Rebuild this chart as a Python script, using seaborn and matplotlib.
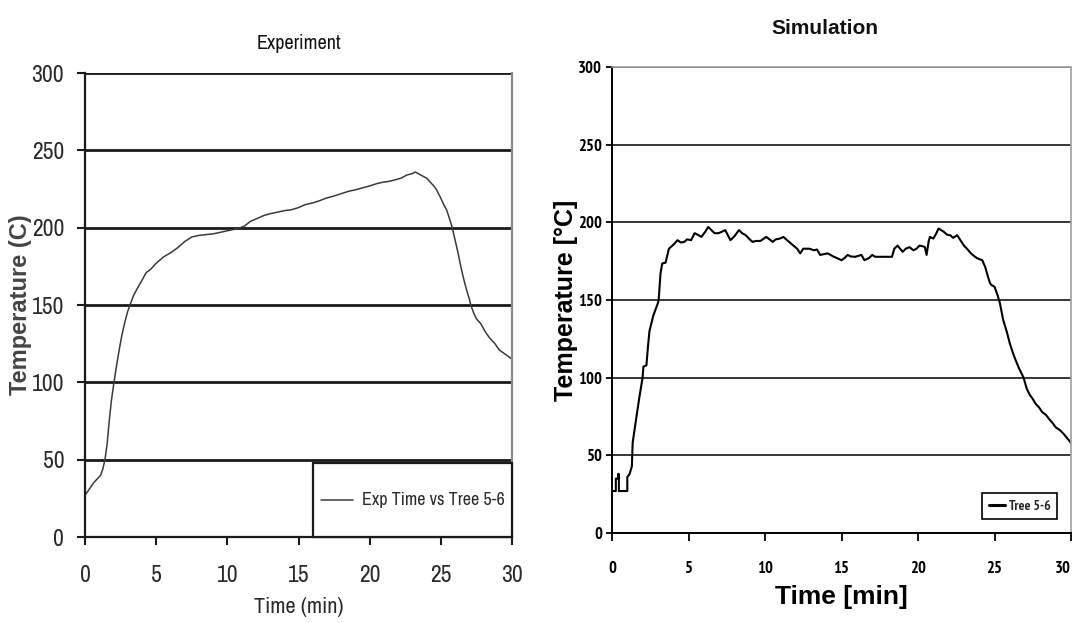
import matplotlib
matplotlib.use("Agg")
import matplotlib.pyplot as plt
import seaborn as sns
import pandas as pd

# Thermocouple "Tree 5-6" readings, time in minutes, temperature in degrees C
exp_time = [0, 0.3, 0.6, 0.9, 1.1, 1.25, 1.4, 1.55, 1.7, 1.85, 2.0, 2.2, 2.4, 2.6,
            2.8, 3.0, 3.2, 3.4, 3.63, 4.0, 4.3, 4.6, 5.0, 5.5, 6.05, 6.5, 7.0, 7.5,
            8.0, 8.47, 9.0, 9.5, 10.0, 10.5, 10.9, 11.2, 11.6, 12.1, 12.6, 13.0,
            13.5, 14.0, 14.5, 15.0, 15.5, 16.0, 16.5, 16.9, 17.5, 18.0, 18.5, 19.0,
            19.4, 20.0, 20.5, 21.0, 21.4, 21.8, 22.2, 22.6, 23.0, 23.2, 23.5, 23.8,
            24.0, 24.3, 24.5, 24.7, 25.0, 25.2, 25.4, 25.6, 25.8, 26.0, 26.2, 26.4,
            26.6, 26.8, 27.0, 27.1, 27.3, 27.5, 27.8, 28.1, 28.4, 28.8, 29.1, 29.4,
            29.7, 30.0]
exp_temp = [27, 31, 35, 38, 40, 44, 50, 60, 75, 88, 98, 110, 121, 131,
            139, 146, 151, 156, 160, 166, 171, 173, 177, 181, 184, 187, 191, 194,
            195, 195.5, 196, 197, 198, 199, 200, 201, 204, 206, 208, 209,
            210, 211, 211.6, 213, 215, 216, 217.5, 219, 220.5, 222, 223.5, 224.5,
            225.5, 227, 228.5, 229.5, 230, 231, 232, 234, 235, 236, 234.5, 233,
            232, 229, 227, 224.5, 219, 215, 211.6, 206, 200, 192, 184, 175,
            167, 160, 154, 150, 145, 141, 138, 133, 129, 125, 121, 119,
            117, 115]

sim_time = [0.0, 0.25, 0.25, 0.4, 0.4, 0.45, 0.45, 1.0, 1.0, 1.15, 1.3, 1.35, 1.6,
            1.8, 2.0, 2.05, 2.25, 2.35, 2.45, 2.7, 3.0, 3.05, 3.17, 3.28, 3.5, 3.72,
            4.06, 4.28, 4.5, 4.73, 4.9, 5.17, 5.4, 5.6, 5.84, 6.1, 6.29, 6.5, 6.7,
            6.96, 7.2, 7.4, 7.74, 8.0, 8.3, 8.5, 8.74, 9.0, 9.19, 9.4, 9.7, 10.08,
            10.3, 10.5, 10.7, 10.97, 11.2, 11.5, 11.86, 12.1, 12.3, 12.5, 12.9, 13.2,
            13.4, 13.6, 14.1, 14.5, 14.7, 15.0, 15.2, 15.4, 15.6, 15.9, 16.3, 16.5,
            16.8, 17.0, 17.2, 18.3, 18.45, 18.66, 19.0, 19.2, 19.44, 19.7, 19.9,
            20.1, 20.3, 20.45, 20.56, 20.7, 20.78, 21.0, 21.2, 21.34, 21.67, 21.9,
            22.1, 22.3, 22.56, 22.8, 23.0, 23.2, 23.46, 23.7, 23.9, 24.2, 24.4,
            24.57, 24.7, 24.8, 25.0, 25.2, 25.35, 25.57, 25.8, 26.0, 26.2, 26.35,
            26.6, 26.9, 27.1, 27.3, 27.47, 27.7, 27.9, 28.1, 28.36, 28.6, 28.8,
            29.0, 29.25, 29.5, 29.75, 30.0]
sim_temp = [27, 27, 35, 35, 38, 38, 27, 27, 36, 38, 43, 58, 75,
            88, 100, 107, 108, 120, 130, 140, 148, 150, 167, 173.5, 174, 183,
            186, 188.5, 187, 187.4, 189, 188.5, 193, 192, 190.6, 194, 197, 195, 193,
            193, 194, 195, 188.5, 191, 195, 193, 191.7, 189, 187.4, 188, 188, 190.6,
            189, 187.4, 189, 189.5, 190.6, 188, 185, 183, 180, 183, 183, 182,
            182.5, 179, 180, 177.8, 177, 175.6, 177, 179, 178, 177.8, 179, 175.6,
            177, 179, 177.8, 177.8, 183, 185, 181, 183, 184, 182, 183,
            185, 184.6, 184, 179, 188, 190.6, 189.5, 193, 196, 194, 192,
            191.7, 190, 191.7, 188, 185, 183, 180, 178, 176.7, 175.6, 171,
            165, 161, 159.6, 158.5, 153, 148, 137, 129.6, 122, 116, 112,
            106, 100, 93, 89, 86.7, 83, 81, 78, 76, 73, 70.7,
            68, 66.4, 64, 61, 58]

x_ticks = [0, 5, 10, 15, 20, 25, 30]
y_ticks = [0, 50, 100, 150, 200, 250, 300]

exp_df = pd.DataFrame({"time": exp_time, "temp": exp_temp})
sim_df = pd.DataFrame({"time": sim_time, "temp": sim_temp})

sns.set_style("white")
plt.rcParams["font.family"] = ["Liberation Sans", "DejaVu Sans"]
NARROW = ["Archivo Narrow", "Roboto Condensed", "DejaVu Sans"]
NARROW_BOLD = ["PT Sans Narrow", "Roboto Condensed", "DejaVu Sans"]

fig = plt.figure(figsize=(10.75, 6.23), dpi=100)
ax1 = fig.add_axes([0.0791, 0.1380, 0.3972, 0.7448])
ax2 = fig.add_axes([0.5693, 0.1445, 0.4270, 0.7480])

# ---------------- Experiment panel ----------------
sns.lineplot(data=exp_df, x="time", y="temp", ax=ax1, color="#3a3a3a",
             linewidth=1.1, label="\nExp Time vs Tree 5-6\n", sort=False,
             estimator=None)
ax1.set_xlim(0, 30)
ax1.set_ylim(0, 300)
ax1.set_xticks(x_ticks)
ax1.set_yticks(y_ticks)
ax1.yaxis.grid(True, color="#1a1a1a", linewidth=2.0)
ax1.xaxis.grid(False)
ax1.set_axisbelow(True)
for side in ("left", "bottom"):
    ax1.spines[side].set_color("#1a1a1a")
    ax1.spines[side].set_linewidth(1.6)
ax1.spines["top"].set_visible(False)
ax1.spines["right"].set_color("#8a8a8a")
ax1.spines["right"].set_linewidth(1.6)
ax1.tick_params(axis="both", which="both", direction="out", length=6, width=1.5,
                color="#1a1a1a", labelcolor="#2a2a2a", left=True, bottom=True)
ax1.tick_params(axis="x", pad=14)
ax1.tick_params(axis="y", pad=9)
for lab in ax1.get_xticklabels() + ax1.get_yticklabels():
    lab.set_family(NARROW)
    lab.set_fontsize(17)
ax1.set_title("Experiment", family=NARROW, fontsize=14.5, color="#111111", pad=17)
ax1.set_xlabel("Time (min)", family=NARROW, fontsize=16, color="#2a2a2a")
ax1.xaxis.set_label_coords(0.5, -0.130)
ax1.set_ylabel("Temperature (C)", fontsize=17, fontweight="bold", color="#444444")
ax1.yaxis.set_label_coords(-0.125, 0.5)

leg1 = ax1.legend(loc="lower right", bbox_to_anchor=(1.0, 0.0), borderaxespad=0,
                  fancybox=False, framealpha=1, edgecolor="#1a1a1a",
                  borderpad=0.4, handlelength=1.8, handletextpad=0.5,
                  prop={"family": NARROW, "size": 13})
leg1.get_frame().set_linewidth(1.6)
for t in leg1.get_texts():
    t.set_color("#2a2a2a")
    t.set_linespacing(1.45)

# ---------------- Simulation panel ----------------
sns.lineplot(data=sim_df, x="time", y="temp", ax=ax2, color="black",
             linewidth=1.5, label="Tree 5-6", sort=False, estimator=None)
ax2.set_xlim(0, 30)
ax2.set_ylim(0, 300)
ax2.set_xticks(x_ticks)
ax2.set_yticks(y_ticks)
ax2.yaxis.grid(True, color="black", linewidth=1.1)
ax2.xaxis.grid(False)
ax2.set_axisbelow(True)
for side in ("left", "bottom"):
    ax2.spines[side].set_color("black")
    ax2.spines[side].set_linewidth(1.4)
for side in ("top", "right"):
    ax2.spines[side].set_color("#a0a0a0")
    ax2.spines[side].set_linewidth(1.2)
ax2.tick_params(axis="both", which="both", direction="out", width=1.3,
                color="black", labelcolor="black", left=True, bottom=True)
ax2.tick_params(axis="x", length=6, pad=14)
ax2.tick_params(axis="y", length=4, pad=3)
for lab in ax2.get_xticklabels() + ax2.get_yticklabels():
    lab.set_family(NARROW_BOLD)
    lab.set_fontsize(12)
    lab.set_fontweight("bold")
ax2.get_xticklabels()[-1].set_horizontalalignment("right")
ax2.set_title("Simulation", fontsize=15, fontweight="bold", color="#111111",
              pad=24, x=0.464)
ax2.set_xlabel("Time [min]", fontsize=19, fontweight="bold", color="black")
ax2.xaxis.set_label_coords(0.5, -0.112)
ax2.set_ylabel("Temperature [°C]", fontsize=18, fontweight="bold", color="black")
ax2.yaxis.set_label_coords(-0.074, 0.5)

leg2 = ax2.legend(loc="lower right", bbox_to_anchor=(0.969, 0.030), borderaxespad=0,
                  fancybox=False, framealpha=1, edgecolor="black",
                  borderpad=0.45, handlelength=1.2, handletextpad=0.25,
                  prop={"family": NARROW_BOLD, "size": 10, "weight": "bold"})
leg2.get_frame().set_linewidth(1.2)
for line in leg2.get_lines():
    line.set_linewidth(2.2)

fig.savefig("out.png", dpi=100)
